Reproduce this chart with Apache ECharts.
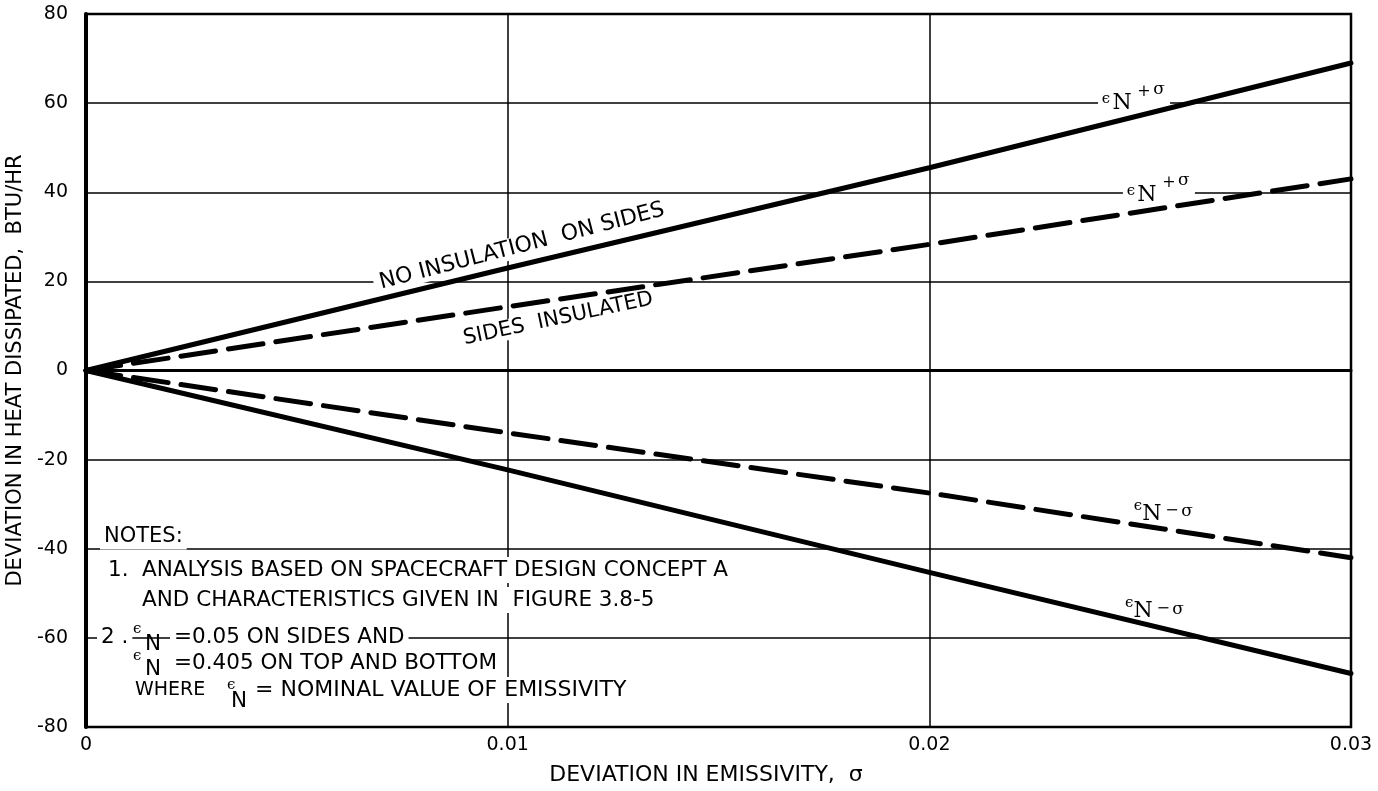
<!DOCTYPE html>
<html>
<head>
<meta charset="utf-8">
<script src="https://cdn.jsdelivr.net/npm/echarts@6/dist/echarts.min.js"></script>
<style>
  html, body { margin: 0; padding: 0; background: #ffffff; }
  #chart { width: 1378px; height: 791px; }
</style>
</head>
<body>
<div id="chart"></div>
<script>
// Deviation in emissivity (sigma) at which each curve is sampled
const sigma = [0, 0.01, 0.02, 0.03];

// Deviation in heat dissipated, BTU/HR
const noInsulationPlus    = [0, 23.0, 45.5, 69.0];    // eN + sigma, no insulation on sides
const sidesInsulatedPlus  = [0, 14.3, 28.3, 43.0];    // eN + sigma, sides insulated
const sidesInsulatedMinus = [0, -14.0, -27.5, -42.0]; // eN - sigma, sides insulated
const noInsulationMinus   = [0, -22.3, -45.3, -68.0]; // eN - sigma, no insulation on sides

// Axis tick labels
const xTickLabels = ['0', '0.01', '0.02', '0.03'];
const yTickLabels = ['-80', '-60', '-40', '-20', '0', '20', '40', '60', '80'];

const FONT = 'DejaVu Sans';
const SERIF = 'DejaVu Serif';

function pairs(ys) { return sigma.map((x, i) => [x, ys[i]]); }

const chart = echarts.init(document.getElementById('chart'), null, { renderer: 'canvas' });

const solidStyle = { color: '#000', width: 5, type: 'solid', cap: 'round' };
const dashedStyle = { color: '#000', width: 5, type: [35, 13], cap: 'round' };

function lineSeries(name, ys, style) {
  return {
    name: name,
    type: 'line',
    data: pairs(ys),
    symbol: 'none',
    lineStyle: style,
    silent: true,
    animation: false,
    z: 3
  };
}

chart.setOption({
  backgroundColor: '#ffffff',
  animation: false,
  grid: {
    left: 86, right: 27, top: 14, bottom: 64,
    outerBoundsMode: 'none',
    show: true, borderColor: '#000', borderWidth: 2.5, backgroundColor: 'transparent'
  },
  xAxis: {
    type: 'value', min: 0, max: 0.03, interval: 0.01,
    name: 'DEVIATION IN EMISSIVITY,  σ',
    nameLocation: 'middle', nameGap: 37,
    nameTextStyle: { fontFamily: FONT, fontSize: 22, color: '#000', padding: [0, 25, 0, 0] },
    axisLine: { show: true, lineStyle: { color: '#000', width: 3 } },
    axisTick: { show: false },
    axisLabel: {
      fontFamily: FONT, fontSize: 19, color: '#000', margin: 9,
      formatter: (v) => xTickLabels[Math.round(v / 0.01)]
    },
    splitLine: { show: true, lineStyle: { color: '#000', width: 1.5 } }
  },
  yAxis: {
    type: 'value', min: -80, max: 80, interval: 20,
    name: 'DEVIATION IN HEAT DISSIPATED,  BTU/HR',
    nameLocation: 'middle', nameGap: 52,
    nameTextStyle: { fontFamily: FONT, fontSize: 21, color: '#000' },
    axisLine: { show: true, lineStyle: { color: '#000', width: 4 } },
    axisTick: { show: false },
    axisLabel: {
      fontFamily: FONT, fontSize: 19, color: '#000', margin: 18,
      formatter: (v) => yTickLabels[Math.round((v + 80) / 20)]
    },
    splitLine: { show: true, lineStyle: { color: '#000', width: 1.5 } }
  },
  series: [
    lineSeries('No insulation on sides, eN + sigma', noInsulationPlus, solidStyle),
    lineSeries('Sides insulated, eN + sigma', sidesInsulatedPlus, dashedStyle),
    lineSeries('Sides insulated, eN - sigma', sidesInsulatedMinus, dashedStyle),
    lineSeries('No insulation on sides, eN - sigma', noInsulationMinus, solidStyle)
  ]
});

// ---- annotations ----
const toPx = (x, y) => chart.convertToPixel({ gridIndex: 0 }, [x, y]);
const DEG = Math.PI / 180;

function plainText(x, y, text, size, extra) {
  return {
    type: 'text', x: x, y: y, z: 10,
    style: Object.assign({
      text: text, fill: '#000', font: size + 'px ' + FONT,
      textAlign: 'left', textVerticalAlign: 'middle'
    }, extra || {})
  };
}
const WHITE = { backgroundColor: '#fff', padding: [2, 4] };

// Curve captions placed in data space
const captions = [
  { text: 'NO INSULATION  ON SIDES', at: [0.01034, 27.9], rot: 14.5, size: 22 },
  { text: 'SIDES  INSULATED', at: [0.0112, 11.6], rot: 12, size: 21 }
];

// eN +/- sigma end labels (anchor = centre of the N, in data space)
const endLabels = [
  { sign: '+', at: [0.02457, 59.9] },
  { sign: '+', at: [0.02516, 39.4] },
  { sign: '−', at: [0.02528, -32.2] },
  { sign: '−', at: [0.02507, -54.1] }
];

function epsLabel(sign, px) {
  const plus = sign === '+';
  const t = (x, y, s, f) => ({
    type: 'text', x: x, y: y,
    style: { text: s, font: f, fill: '#000', textAlign: 'center', textVerticalAlign: 'middle' }
  });
  return {
    type: 'group', x: px[0], y: px[1], z: 10,
    children: [
      { type: 'rect', shape: { x: -24, y: -22, width: 72, height: 34 }, style: { fill: '#fff' } },
      t(plus ? -16 : -14, plus ? -4 : -8, 'ϵ', '15px ' + SERIF),
      t(0, 0, 'N', '22px ' + SERIF),
      t(plus ? 22 : 20, plus ? -12 : -3, sign, '16px ' + SERIF),
      t(plus ? 37 : 35, plus ? -14 : -2, 'σ', '17px ' + SERIF)
    ]
  };
}

const graphics = [];

captions.forEach((c) => {
  const p = toPx(c.at[0], c.at[1]);
  graphics.push({
    type: 'text', x: p[0], y: p[1], rotation: c.rot * DEG, z: 10,
    style: {
      text: c.text, font: c.size + 'px ' + FONT, fill: '#000',
      textAlign: 'center', textVerticalAlign: 'middle',
      backgroundColor: '#fff', padding: [0, 6]
    }
  });
});

endLabels.forEach((l) => graphics.push(epsLabel(l.sign, toPx(l.at[0], l.at[1]))));

// Notes block in the lower-left corner of the plot
const NF = 21.5;
const epsFont = { font: '15px ' + SERIF };
graphics.push(plainText(100, 537, 'NOTES:', 21, WHITE));
graphics.push(plainText(104, 570, '1.', NF, WHITE));
graphics.push(plainText(138, 570, 'ANALYSIS BASED ON SPACECRAFT DESIGN CONCEPT A', NF, WHITE));
graphics.push(plainText(138, 600, 'AND CHARACTERISTICS GIVEN IN  FIGURE 3.8-5', NF, WHITE));

// "2. eN =0.05 ON SIDES AND"
graphics.push(plainText(97, 637, '2 .', NF, WHITE));
graphics.push(plainText(133, 629, 'ϵ', 15, epsFont));
graphics.push(plainText(145, 644, 'N', NF));
graphics.push(plainText(170, 637, '=0.05 ON SIDES AND', NF, WHITE));

// "eN =0.405 ON TOP AND BOTTOM"
graphics.push(plainText(133, 656, 'ϵ', 15, epsFont));
graphics.push(plainText(145, 669, 'N', NF));
graphics.push(plainText(170, 663, '=0.405 ON TOP AND BOTTOM', NF, WHITE));

// "WHERE eN = NOMINAL VALUE OF EMISSIVITY"
graphics.push(plainText(131, 690, 'WHERE', 19, WHITE));
graphics.push(plainText(227, 685, 'ϵ', 15, epsFont));
graphics.push(plainText(231, 701, 'N', NF));
graphics.push(plainText(251, 690, '= NOMINAL VALUE OF EMISSIVITY', 22, WHITE));

chart.setOption({ graphic: graphics });
</script>
</body>
</html>
